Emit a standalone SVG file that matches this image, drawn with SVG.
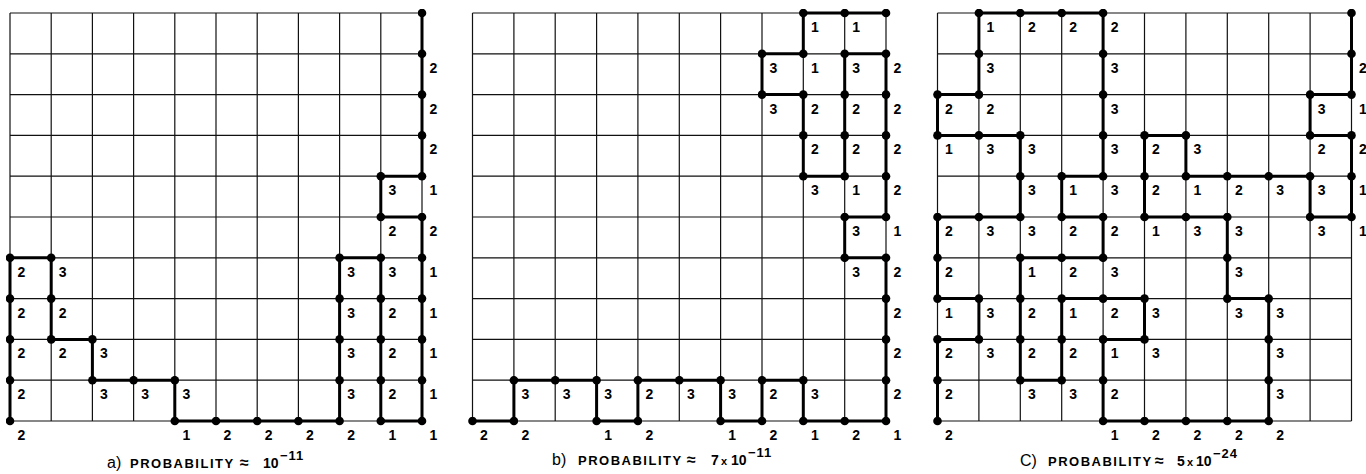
<svg xmlns="http://www.w3.org/2000/svg" width="1366" height="474" viewBox="0 0 1366 474">
<style>
.grid{fill:none;stroke:#111;stroke-width:1.2}
.walk{fill:none;stroke:#000;stroke-width:3;marker-start:url(#dot);marker-mid:url(#dot);marker-end:url(#dot)}
.n{font-family:"Liberation Sans",Arial,sans-serif;font-weight:bold;font-size:14px;text-anchor:middle;fill:#000}
.cap{font-family:"Liberation Sans",Arial,sans-serif;fill:#000}
.pl{font-size:16px;font-weight:normal}
.pb{font-size:13px;font-weight:bold;letter-spacing:1.5px}
.ap{font-size:16px;font-weight:bold}
.num{font-size:14px;font-weight:bold}
.x{font-size:11px;font-weight:bold}
.sup{font-size:13px;font-weight:bold;letter-spacing:1px}
</style>
<defs>
<marker id="dot" viewBox="-4.5 -4.5 9 9" markerWidth="9" markerHeight="9" refX="0" refY="0" markerUnits="userSpaceOnUse"><circle r="4.3" fill="#000"/></marker>
</defs>
<rect width="1366" height="474" fill="#fff"/>

<g id="panel-a">
<path class="grid" d="M10 13V421M51.2 13V421M92.4 13V421M133.6 13V421M174.8 13V421M216 13V421M257.2 13V421M298.4 13V421M339.6 13V421M380.8 13V421M422 13V421M10 13H422M10 53.8H422M10 94.6H422M10 135.4H422M10 176.2H422M10 217H422M10 257.8H422M10 298.6H422M10 339.4H422M10 380.2H422M10 421H422"/>
<g id="labels-a">
<text class="n" x="433.5" y="72.8">2</text>
<text class="n" x="433.5" y="113.6">2</text>
<text class="n" x="433.5" y="154.4">2</text>
<text class="n" x="392.3" y="195.2">3</text><text class="n" x="433.5" y="195.2">1</text>
<text class="n" x="392.3" y="236">2</text><text class="n" x="433.5" y="236">2</text>
<text class="n" x="21.5" y="276.8">2</text><text class="n" x="62.7" y="276.8">3</text><text class="n" x="351.1" y="276.8">3</text><text class="n" x="392.3" y="276.8">3</text><text class="n" x="433.5" y="276.8">1</text>
<text class="n" x="21.5" y="317.6">2</text><text class="n" x="62.7" y="317.6">2</text><text class="n" x="351.1" y="317.6">3</text><text class="n" x="392.3" y="317.6">2</text><text class="n" x="433.5" y="317.6">1</text>
<text class="n" x="21.5" y="358.4">2</text><text class="n" x="62.7" y="358.4">2</text><text class="n" x="103.9" y="358.4">3</text><text class="n" x="351.1" y="358.4">3</text><text class="n" x="392.3" y="358.4">2</text><text class="n" x="433.5" y="358.4">1</text>
<text class="n" x="21.5" y="399.2">2</text><text class="n" x="103.9" y="399.2">3</text><text class="n" x="145.1" y="399.2">3</text><text class="n" x="186.3" y="399.2">3</text><text class="n" x="351.1" y="399.2">3</text><text class="n" x="392.3" y="399.2">2</text><text class="n" x="433.5" y="399.2">1</text>
<text class="n" x="21.5" y="440">2</text><text class="n" x="186.3" y="440">1</text><text class="n" x="227.5" y="440">2</text><text class="n" x="268.7" y="440">2</text><text class="n" x="309.9" y="440">2</text><text class="n" x="351.1" y="440">2</text><text class="n" x="392.3" y="440">1</text><text class="n" x="433.5" y="440">1</text>
</g>
<text class="cap" y="468"><tspan class="pl" x="107">a)</tspan><tspan class="pb" x="130">PROBABILITY</tspan><tspan class="ap" x="240">≈</tspan><tspan class="num" x="263">10</tspan><tspan class="sup" x="280" dy="-8">−11</tspan></text>
</g>

<g id="panel-b">
<path class="grid" d="M472.5 13V421M513.9 13V421M555.2 13V421M596.6 13V421M637.9 13V421M679.3 13V421M720.6 13V421M762 13V421M803.3 13V421M844.7 13V421M886 13V421M472.5 13H886M472.5 53.8H886M472.5 94.6H886M472.5 135.4H886M472.5 176.2H886M472.5 217H886M472.5 257.8H886M472.5 298.6H886M472.5 339.4H886M472.5 380.2H886M472.5 421H886"/>
<g id="labels-b">
<text class="n" x="814.8" y="32">1</text><text class="n" x="856.2" y="32">1</text>
<text class="n" x="773.5" y="72.8">3</text><text class="n" x="814.8" y="72.8">1</text><text class="n" x="856.2" y="72.8">3</text><text class="n" x="897.5" y="72.8">2</text>
<text class="n" x="773.5" y="113.6">3</text><text class="n" x="814.8" y="113.6">2</text><text class="n" x="856.2" y="113.6">2</text><text class="n" x="897.5" y="113.6">2</text>
<text class="n" x="814.8" y="154.4">2</text><text class="n" x="856.2" y="154.4">2</text><text class="n" x="897.5" y="154.4">2</text>
<text class="n" x="814.8" y="195.2">3</text><text class="n" x="856.2" y="195.2">1</text><text class="n" x="897.5" y="195.2">2</text>
<text class="n" x="856.2" y="236">3</text><text class="n" x="897.5" y="236">1</text>
<text class="n" x="856.2" y="276.8">3</text><text class="n" x="897.5" y="276.8">2</text>
<text class="n" x="897.5" y="317.6">2</text>
<text class="n" x="897.5" y="358.4">2</text>
<text class="n" x="525.4" y="399.2">3</text><text class="n" x="566.7" y="399.2">3</text><text class="n" x="608.1" y="399.2">3</text><text class="n" x="649.4" y="399.2">2</text><text class="n" x="690.8" y="399.2">3</text><text class="n" x="732.1" y="399.2">3</text><text class="n" x="773.5" y="399.2">2</text><text class="n" x="814.8" y="399.2">3</text><text class="n" x="897.5" y="399.2">2</text>
<text class="n" x="484" y="440">2</text><text class="n" x="525.4" y="440">2</text><text class="n" x="608.1" y="440">1</text><text class="n" x="649.4" y="440">2</text><text class="n" x="732.1" y="440">1</text><text class="n" x="773.5" y="440">2</text><text class="n" x="814.8" y="440">1</text><text class="n" x="856.2" y="440">2</text><text class="n" x="897.5" y="440">1</text>
</g>
<text class="cap" y="465"><tspan class="pl" x="552">b)</tspan><tspan class="pb" x="578">PROBABILITY</tspan><tspan class="ap" x="687">≈</tspan><tspan class="num" x="711">7</tspan><tspan class="x" x="721">x</tspan><tspan class="num" x="731">10</tspan><tspan class="sup" x="748" dy="-8">−11</tspan></text>
</g>

<g id="panel-c">
<path class="grid" d="M937.5 13V421M978.9 13V421M1020.3 13V421M1061.7 13V421M1103.1 13V421M1144.5 13V421M1185.9 13V421M1227.3 13V421M1268.7 13V421M1310.1 13V421M1351.5 13V421M937.5 13H1351.5M937.5 53.8H1351.5M937.5 94.6H1351.5M937.5 135.4H1351.5M937.5 176.2H1351.5M937.5 217H1351.5M937.5 257.8H1351.5M937.5 298.6H1351.5M937.5 339.4H1351.5M937.5 380.2H1351.5M937.5 421H1351.5"/>
<g id="labels-c">
<text class="n" x="990.4" y="32">1</text><text class="n" x="1031.8" y="32">2</text><text class="n" x="1073.2" y="32">2</text><text class="n" x="1114.6" y="32">2</text>
<text class="n" x="990.4" y="72.8">3</text><text class="n" x="1114.6" y="72.8">3</text><text class="n" x="1363" y="72.8">2</text>
<text class="n" x="949" y="113.6">2</text><text class="n" x="990.4" y="113.6">2</text><text class="n" x="1114.6" y="113.6">3</text><text class="n" x="1321.6" y="113.6">3</text><text class="n" x="1363" y="113.6">1</text>
<text class="n" x="949" y="154.4">1</text><text class="n" x="990.4" y="154.4">3</text><text class="n" x="1031.8" y="154.4">3</text><text class="n" x="1114.6" y="154.4">3</text><text class="n" x="1156" y="154.4">2</text><text class="n" x="1197.4" y="154.4">3</text><text class="n" x="1321.6" y="154.4">2</text><text class="n" x="1363" y="154.4">2</text>
<text class="n" x="1031.8" y="195.2">3</text><text class="n" x="1073.2" y="195.2">1</text><text class="n" x="1114.6" y="195.2">3</text><text class="n" x="1156" y="195.2">2</text><text class="n" x="1197.4" y="195.2">1</text><text class="n" x="1238.8" y="195.2">2</text><text class="n" x="1280.2" y="195.2">3</text><text class="n" x="1321.6" y="195.2">3</text><text class="n" x="1363" y="195.2">1</text>
<text class="n" x="949" y="236">2</text><text class="n" x="990.4" y="236">3</text><text class="n" x="1031.8" y="236">3</text><text class="n" x="1073.2" y="236">2</text><text class="n" x="1114.6" y="236">2</text><text class="n" x="1156" y="236">1</text><text class="n" x="1197.4" y="236">3</text><text class="n" x="1238.8" y="236">3</text><text class="n" x="1321.6" y="236">3</text><text class="n" x="1363" y="236">1</text>
<text class="n" x="949" y="276.8">2</text><text class="n" x="1031.8" y="276.8">1</text><text class="n" x="1073.2" y="276.8">2</text><text class="n" x="1114.6" y="276.8">3</text><text class="n" x="1238.8" y="276.8">3</text>
<text class="n" x="949" y="317.6">1</text><text class="n" x="990.4" y="317.6">3</text><text class="n" x="1031.8" y="317.6">2</text><text class="n" x="1073.2" y="317.6">1</text><text class="n" x="1114.6" y="317.6">2</text><text class="n" x="1156" y="317.6">3</text><text class="n" x="1238.8" y="317.6">3</text><text class="n" x="1280.2" y="317.6">3</text>
<text class="n" x="949" y="358.4">2</text><text class="n" x="990.4" y="358.4">3</text><text class="n" x="1031.8" y="358.4">2</text><text class="n" x="1073.2" y="358.4">2</text><text class="n" x="1114.6" y="358.4">1</text><text class="n" x="1156" y="358.4">3</text><text class="n" x="1280.2" y="358.4">3</text>
<text class="n" x="949" y="399.2">2</text><text class="n" x="1031.8" y="399.2">3</text><text class="n" x="1073.2" y="399.2">3</text><text class="n" x="1114.6" y="399.2">2</text><text class="n" x="1280.2" y="399.2">3</text>
<text class="n" x="949" y="440">2</text><text class="n" x="1114.6" y="440">1</text><text class="n" x="1156" y="440">2</text><text class="n" x="1197.4" y="440">2</text><text class="n" x="1238.8" y="440">2</text><text class="n" x="1280.2" y="440">2</text>
</g>
<text class="cap" y="466"><tspan class="pl" x="1020">C)</tspan><tspan class="pb" x="1048">PROBABILITY</tspan><tspan class="ap" x="1155">≈</tspan><tspan class="num" x="1177">5</tspan><tspan class="x" x="1187">x</tspan><tspan class="num" x="1196">10</tspan><tspan class="sup" x="1213" dy="-8">−24</tspan></text>
</g>

<g id="connectors">
<path id="walk-a" class="walk" d="M10 421V380.2V339.4V298.6V257.8H51.2V298.6V339.4H92.4V380.2H133.6H174.8V421H216H257.2H298.4H339.6V380.2V339.4V298.6V257.8H380.8V298.6V339.4V380.2V421H422V380.2V339.4V298.6V257.8V217H380.8V176.2H422V135.4V94.6V53.8V13"/>
<path id="walk-b" class="walk" d="M886 13H844.7H803.3V53.8H762V94.6H803.3V135.4V176.2H844.7V135.4V94.6V53.8H886V94.6V135.4V176.2V217H844.7V257.8H886V298.6V339.4V380.2V421H844.7H803.3V380.2H762V421H720.6V380.2H679.3H637.9V421H596.6V380.2H555.2H513.9V421H472.5"/>
<path id="walk-c" class="walk" d="M1351.5 13V53.8V94.6H1310.1V135.4H1351.5V176.2V217H1310.1V176.2H1268.7H1227.3H1185.9V135.4H1144.5V176.2V217H1185.9H1227.3V257.8V298.6H1268.7V339.4V380.2V421H1227.3H1185.9H1144.5H1103.1V380.2V339.4H1144.5V298.6H1103.1H1061.7V339.4V380.2H1020.3V339.4V298.6V257.8H1061.7H1103.1V217H1061.7V176.2H1103.1V135.4V94.6V53.8V13H1061.7H1020.3H978.9V53.8V94.6H937.5V135.4H978.9H1020.3V176.2V217H978.9H937.5V257.8V298.6H978.9V339.4H937.5V380.2V421"/>
</g>
</svg>
